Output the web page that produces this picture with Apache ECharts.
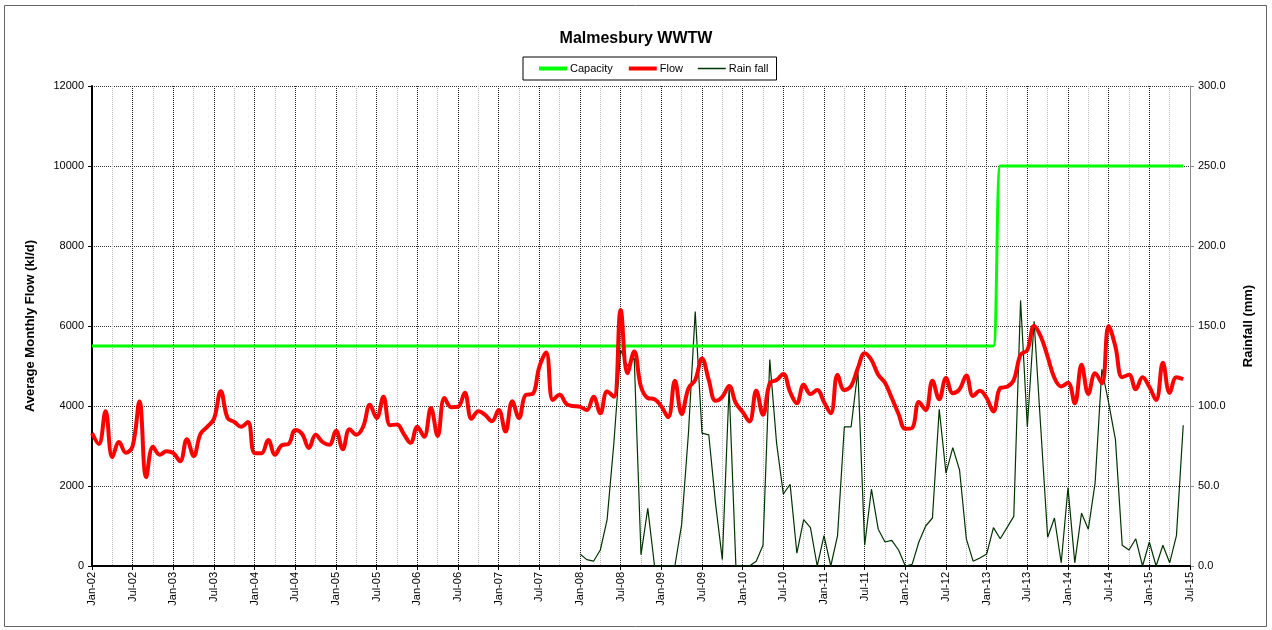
<!DOCTYPE html>
<html>
<head>
<meta charset="utf-8">
<script src="https://cdn.jsdelivr.net/npm/echarts@6/dist/echarts.min.js"></script>
<style>
  html, body { margin: 0; padding: 0; background: #fff; }
  #chart { width: 1272px; height: 630px; }
</style>
</head>
<body>
<div id="chart"></div>
<script>
var dom = document.getElementById('chart');
var myChart = echarts.init(dom);

// months Jan-02 .. Jul-15
var monthNames = ['Jan', 'Feb', 'Mar', 'Apr', 'May', 'Jun', 'Jul', 'Aug', 'Sep', 'Oct', 'Nov', 'Dec'];
var categories = [];
for (var y = 2; y <= 15; y++) {
    for (var m = 0; m < 12; m++) {
        if (y === 15 && m > 6) break;
        categories.push(monthNames[m] + '-' + (y < 10 ? '0' + y : y));
    }
}

// average monthly flow (kl/d), Jan-02 .. Jun-15
var flow = [
    3320, 3050, 3870, 2720, 3100, 2830, 3000, 4110, 2220, 2980, 2780, 2870,
    2820, 2620, 3170, 2750, 3300, 3480, 3680, 4370, 3700, 3600, 3480, 3600,
    2820, 2820, 3150, 2780, 3020, 3050, 3400, 3300, 2950, 3280, 3100, 3030,
    3380, 2920, 3420, 3280, 3480, 4030, 3700, 4230, 3520, 3540, 3300, 3080,
    3480, 3230, 3950, 3250, 4200, 3970, 3980, 4330, 3680, 3870, 3780, 3620,
    3900, 3360, 4120, 3700, 4280, 4300, 4980, 5340, 4150, 4280, 4050, 4000,
    3980, 3900, 4230, 3820, 4360, 4230, 6400, 4820, 5360, 4480, 4200, 4170,
    3990, 3720, 4630, 3800, 4440, 4650, 5190, 4650, 4130, 4230, 4500, 4070,
    3850, 3610, 4380, 3780, 4570, 4650, 4800, 4350, 4070, 4530, 4300, 4400,
    4100, 3820, 4780, 4400, 4500, 4950, 5320, 5150, 4780, 4580, 4200, 3800,
    3430, 3450, 4100, 3900, 4630, 4170, 4700, 4320, 4420, 4760, 4250, 4380,
    4200, 3860, 4450, 4480, 4650, 5280, 5400, 6000, 5730, 5230, 4700, 4490,
    4580, 4070, 5030, 4300, 4820, 4570, 6000, 5480, 4720, 4780, 4420, 4720,
    4480, 4150, 5080, 4330, 4720, 4670
];

// capacity (kl/d): old works to Feb-13, upgraded from Mar-13
var capacityOld = 5500;
var capacityNew = 10000;
var capacityChangeIndex = 134;

// monthly rainfall (mm), Jan-08 .. Jun-15
var rainStartIndex = 72;
var rainfall = [
    7.5, 4, 3, 10, 29, 77, 135, 125, 130, 7, 36, 0,
    0, 0, 0, 26, 83, 159, 83, 82, 39, 4, 112, 0,
    0, 0, 3, 13, 129, 77, 45, 51, 8, 29, 24, 0,
    19, 0, 19, 87, 87, 122, 13, 48, 23, 15, 16, 10,
    0, 1, 15, 25, 30, 98, 58, 74, 60, 17, 3, 5,
    7.5, 24, 17, 24, 31, 166, 87, 153, 85, 18, 30, 2,
    49, 2, 33, 23, 52, 123, 102, 79, 13, 10, 17, 0,
    15, 0, 13, 2, 19, 88
];

var capacity = flow.map(function (v, i) {
    return i < capacityChangeIndex ? capacityOld : capacityNew;
});
var rainSeries = [];
for (var i = 0; i < rainStartIndex; i++) rainSeries.push(null);
rainSeries = rainSeries.concat(rainfall);

var font = 'Liberation Sans, Arial, sans-serif';

var option = {
    animation: false,
    backgroundColor: '#fff',
    textStyle: { fontFamily: font },
    title: {
        text: 'Malmesbury WWTW',
        left: 'center',
        top: 26,
        textStyle: { fontSize: 16, fontWeight: 'bold', color: '#000', fontFamily: font }
    },
    legend: {
        top: 57,
        left: 523,
        padding: [6, 8, 6, 14],
        borderColor: '#000',
        borderWidth: 1,
        itemGap: 14,
        itemWidth: 28,
        itemHeight: 10,
        itemStyle: { opacity: 0 },
        textStyle: { fontSize: 11, color: '#000', padding: [0, 0, 0, -2] },
        data: [
            { name: 'Capacity', lineStyle: { color: '#00ff00', width: 4 } },
            { name: 'Flow', lineStyle: { color: '#ff0000', width: 4 } },
            { name: 'Rain fall', lineStyle: { color: '#003300', width: 1.5 } }
        ]
    },
    graphic: [{
        type: 'rect',
        shape: { x: 4.5, y: 5.5, width: 1262, height: 621 },
        style: { fill: 'none', stroke: '#666', lineWidth: 1 },
        silent: true
    }],
    grid: {
        left: 92,
        right: 82,
        top: 86,
        bottom: 64
    },
    xAxis: {
        type: 'category',
        boundaryGap: false,
        data: categories,
        axisLine: { lineStyle: { color: '#000', width: 2 } },
        axisTick: { interval: 5, length: 4, lineStyle: { color: '#000' } },
        axisLabel: {
            interval: 5,
            rotate: 90,
            fontSize: 11,
            color: '#000',
            margin: 6
        },
        splitLine: {
            show: true,
            interval: 2,
            lineStyle: { color: ['#222', '#b8b8b8'], type: 'dotted', width: 1 }
        }
    },
    yAxis: [{
        type: 'value',
        min: 0,
        max: 12000,
        interval: 2000,
        name: 'Average Monthly Flow (kl/d)',
        nameLocation: 'middle',
        nameGap: 55,
        nameTextStyle: { fontSize: 13, fontWeight: 'bold', color: '#000' },
        axisLine: { show: true, lineStyle: { color: '#000', width: 2 } },
        axisTick: { show: true, length: 4, lineStyle: { color: '#000' } },
        axisLabel: {
            fontSize: 11,
            color: '#000',
            margin: 8,
            formatter: function (v) { return String(v); }
        },
        splitLine: { show: true, lineStyle: { color: '#333', type: 'dotted', width: 1 } }
    }, {
        type: 'value',
        min: 0,
        max: 300,
        interval: 50,
        position: 'right',
        name: 'Rainfall (mm)',
        nameLocation: 'middle',
        nameGap: 52,
        nameTextStyle: { fontSize: 13, fontWeight: 'bold', color: '#000' },
        axisLine: { show: true, lineStyle: { color: '#888', width: 1 } },
        axisTick: { show: true, length: 4, lineStyle: { color: '#888' } },
        axisLabel: {
            fontSize: 11,
            color: '#000',
            margin: 8,
            formatter: function (v) { return v.toFixed(1); }
        },
        splitLine: { show: false }
    }],
    series: [{
        name: 'Capacity',
        type: 'line',
        data: capacity,
        smooth: 0.3,
        symbol: 'none',
        itemStyle: { color: '#00ff00' },
        lineStyle: { color: '#00ff00', width: 3 },
        z: 3
    }, {
        name: 'Flow',
        type: 'line',
        data: flow,
        smooth: 0.4,
        symbol: 'none',
        itemStyle: { color: '#ff0000' },
        lineStyle: { color: '#ff0000', width: 4 },
        z: 4
    }, {
        name: 'Rain fall',
        type: 'line',
        yAxisIndex: 1,
        data: rainSeries,
        symbol: 'none',
        itemStyle: { color: '#003300' },
        lineStyle: { color: '#003300', width: 1.2 },
        z: 2
    }]
};

if (option && typeof option === 'object') {
    myChart.setOption(option);
}
</script>
</body>
</html>
